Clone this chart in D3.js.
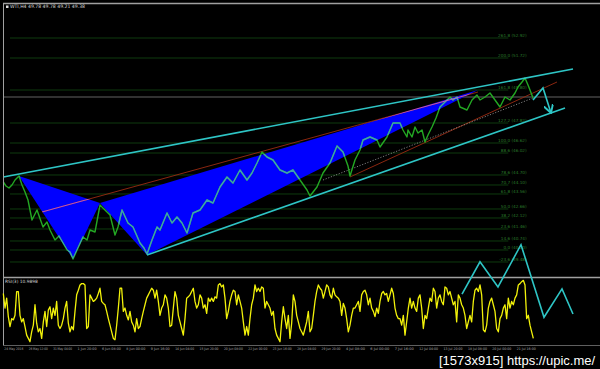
<!DOCTYPE html>
<html>
<head>
<meta charset="utf-8">
<script src="https://cdn.jsdelivr.net/npm/d3@7"></script>
<style>
  html, body { margin: 0; background: #000; }
  svg { display: block; }
</style>
</head>
<body>
<svg id="chart" width="600" height="369"></svg>
<script>
// WTI H4 with harmonic pattern, channel and RSI(3)

// price swings: [bar, price]
const price = [
  [0,44.28],[1.6,44.04],[3.4,43.92],[5.2,44.10],[7,44.40],[9.4,44.64],[11.2,44.10],[13,43.68],
  [14.8,43.20],[17.2,42.00],[20.2,42.60],[23.8,41.58],[26.2,41.88],[28,41.40],[31,40.80],
  [33.4,41.04],[35.8,40.62],[38.2,40.20],[40,40.08],[41.8,39.66],[44.8,40.32],[47.8,40.98],
  [50.2,40.80],[52,41.40],[55,41.28],[58,42.90],[61,42.60],[64,42.30],[67,41.10],[68.8,41.58],
  [71.2,42.60],[74.8,41.82],[77.8,41.58],[82,40.62],[84.4,40.32],[86.2,39.96],[89.2,40.80],
  [92.2,41.58],[94,41.40],[98.2,42.42],[101.2,41.82],[104.2,42.18],[107.2,41.82],[110.2,41.22],
  [113.8,42.42],[118,42.60],[122.2,43.20],[125.8,43.02],[130,43.98],[134.2,44.58],[137.8,44.22],
  [142,45.00],[146.2,44.40],[149.2,44.82],[152.2,45.42],[155.2,46.08],[158.2,45.78],[161.8,45.60],
  [166,45.00],[170.2,44.82],[173.8,45.00],[178,44.40],[182.2,43.80],[184,43.44],[188.2,43.98],
  [191.8,44.82],[196,45.42],[200.2,46.44],[203.8,46.08],[206.8,45.24],[208,44.64],[211,45.60],
  [214,46.20],[215.8,46.80],[220,46.98],[224.2,46.80],[226,46.38],[230.2,46.98],[233.8,47.82],
  [238,47.82],[239.8,47.40],[242.2,46.98],[242.8,47.40],[245.2,46.98],[247,47.58],[248.8,47.22],
  [251.2,47.40],[253,46.68],[254.8,47.10],[257.2,47.58],[259.6,48.12],[262,48.78],[266.2,49.20],
  [268,49.38],[269.8,49.20],[272.2,49.38],[274,48.78],[278.2,48.60],[281.2,49.20],[284.2,49.50],
  [286,49.20],[289,49.38],[292,49.62],[295,49.20],[298,48.78],[301,49.38],[304,49.20],[307,49.62],
  [308.8,49.98],[311.2,50.28],[313,50.52],[314.8,50.10],[316,49.80],[317.8,49.32]
];

// RSI(3), one value per sample bar
const rsi = [
  78,56,71,43,28,40,38,45,81,81, 45,35,40,28,15,10,5,20,30,61, 33,20,25,10,35,51,28,53,58,40,
  56,45,66,30,25,30,40,56,66,33, 20,28,23,51,76,83,91,93,93,91, 25,28,76,71,66,68,71,78,86,66,
  63,61,51,40,30,20,10,8,30,56, 86,86,51,56,45,38,51,35,30,20, 40,25,28,40,51,61,71,76,81,86,
  83,71,83,66,45,56,61,76,71,56, 28,30,56,81,71,45,35,25,15,40, 71,73,76,81,86,66,56,61,
  76,71,56,61,48,71,66,71,66,73, 71,91,93,88,91,71,40,51,66,76, 83,81,61,76,66,56,35,15,28,15,
  40,61,71,91,81,86,81,88,86,56, 66,61,56,45,51,25,15,10,5,35, 58,40,25,45,10,33,76,66,45,35,
  25,20,15,25,35,51,20,25,45,66, 81,91,86,83,71,81,91,88,76,71, 86,76,73,71,66,45,63,56,40,20,
  30,45,56,56,61,66,51,76,81,83, 76,61,71,56,51,43,56,48,66,78, 81,76,78,66,76,86,78,56,45,40,
  40,30,45,15,35,56,71,56,66,56, 51,71,76,56,25,45,40,56,71,66, 86,81,56,71,76,66,61,88,86,76,
  81,71,61,66,35,76,71,61,56,45, 25,35,45,35,66,83,86,81,91,76, 23,20,30,56,66,71,61,51,25,20,
  40,45,56,61,40,71,56,66,61,71, 76,91,93,96,98,91,40,45,30,20, 10
];

const fibPrices = [52.92, 51.72, 49.80, 47.82, 46.62, 46.02, 44.70, 44.10, 43.56, 42.66, 42.12, 41.46, 40.74, 40.20, 39.48];
const fibRatios = ['261.8', '200.0', '161.8', '127.2', '100.0', '88.6', '78.6', '70.7', '61.8', '50.0', '38.2', '23.6', '14.6', '0.0', '-23.6'];

// harmonic pattern X-A-B and B-C-D
const patternXAB = [[9.4,44.64],[41.8,39.66],[58,43.02]];
const patternBCD = [[58,43.02],[86.2,39.90],[284.8,49.80]];

const channelTop    = [[0,44.58],[341.8,51.06]];
const channelBottom = [[86.2,39.90],[337,48.72]];
const redLines = [
  [[23.2,42.48],[284.8,49.68]],
  [[208,44.58],[332.2,50.28]]
];
const dottedLine = [[191.8,44.40],[317.8,49.32]];
const projection = [[317.8,49.20],[323.8,49.92],[328.6,48.42]];
const rsiProjection = [[275.2,77],[286,126],[296.8,88],[310.6,152],[324.4,42],[335.2,85],[341.8,47]];

const bidPrice = 49.38;
const timeLabels = [
  '24 May 2016','26 May 12:00','31 May 04:00','1 Jun 20:00','6 Jun 08:00','8 Jun 00:00',
  '9 Jun 16:00','14 Jun 04:00','15 Jun 20:00','20 Jun 08:00','22 Jun 00:00','23 Jun 16:00',
  '28 Jun 04:00','29 Jun 20:00','4 Jul 08:00','6 Jul 00:00','7 Jul 16:00','12 Jul 04:00',
  '13 Jul 20:00','18 Jul 08:00','20 Jul 00:00','21 Jul 16:00'
];
const timeStep = 14.64;   // bars between time labels

// ── scales ──────────────────────────────────────────────────────────────────
const svg = d3.select('#chart');
const x  = d3.scaleLinear().domain([0, 318]).range([3.33, 533.33]);
const y  = d3.scaleLinear().domain([40, 50]).range([253.33, 86.67]);
const yR = d3.scaleLinear().domain([0, 100]).range([345, 279]);

const pLine = d3.line().x(d => x(d[0])).y(d => y(d[1]));
const rLine = d3.line().x(d => x(d[0])).y(d => yR(d[1]));

const font = 'DejaVu Sans, Liberation Sans, sans-serif';

svg.append('rect').attr('width', 600).attr('height', 369).attr('fill', '#000');

const defs = svg.append('defs');
const clip = defs.append('clipPath').attr('id', 'pat');
[patternXAB, patternBCD].forEach(p => clip.append('path').attr('d', pLine(p) + 'Z'));
defs.append('marker')
  .attr('id', 'arrow').attr('viewBox', '0 0 8 8').attr('refX', 7).attr('refY', 4)
  .attr('markerWidth', 6).attr('markerHeight', 6).attr('orient', 'auto')
  .append('path').attr('d', 'M0,0 L7,4 L0,8').attr('fill', 'none')
  .attr('stroke', '#2ec5c5').attr('stroke-width', 1.6);

// ── fibo levels ─────────────────────────────────────────────────────────────
const fib = svg.append('g');
fib.selectAll('line').data(fibPrices).enter().append('line')
  .attr('x1', x(4)).attr('x2', x(303))
  .attr('y1', d => y(d)).attr('y2', d => y(d))
  .attr('stroke', '#124a12').attr('stroke-width', 0.8);
fib.selectAll('text').data(fibPrices).enter().append('text')
  .attr('x', x(314)).attr('y', d => y(d) - 0.8)
  .attr('text-anchor', 'end')
  .attr('font-family', font).attr('font-size', 4.2)
  .attr('fill', '#2a7a2a')
  .text((d, i) => `${fibRatios[i]} (${d.toFixed(2)})`);

// bid line
svg.append('line')
  .attr('x1', 3).attr('x2', 600).attr('y1', y(bidPrice)).attr('y2', y(bidPrice))
  .attr('stroke', '#6e6e6e').attr('stroke-width', 0.9);

// ── pattern fill ────────────────────────────────────────────────────────────
svg.selectAll('path.pattern')
  .data([patternXAB, patternBCD])
  .enter().append('path')
  .attr('class', 'pattern')
  .attr('d', d => pLine(d) + 'Z')
  .attr('fill', '#0000ff');

// trend lines
svg.selectAll('path.red')
  .data(redLines)
  .enter().append('path')
  .attr('class', 'red')
  .attr('d', pLine)
  .attr('fill', 'none')
  .attr('stroke', '#9a2a12').attr('stroke-width', 0.9);

svg.append('path')
  .attr('d', pLine(dottedLine))
  .attr('fill', 'none')
  .attr('stroke', '#9a9a9a').attr('stroke-width', 0.8)
  .attr('stroke-dasharray', '1.2,1.6');

// price
svg.append('path')
  .attr('d', pLine(price))
  .attr('fill', 'none')
  .attr('stroke', '#23a823').attr('stroke-width', 1.4)
  .attr('stroke-linejoin', 'round');

// inside pattern: price and trend line blend with the blue
const inner = svg.append('g').attr('clip-path', 'url(#pat)');
inner.append('path')
  .attr('d', pLine(price))
  .attr('fill', 'none')
  .attr('stroke', '#3d9fb4').attr('stroke-width', 1.4)
  .attr('stroke-linejoin', 'round');
inner.selectAll('path.red')
  .data(redLines)
  .enter().append('path')
  .attr('d', pLine)
  .attr('fill', 'none')
  .attr('stroke', '#c05ad0').attr('stroke-width', 0.9);

// channel
svg.selectAll('path.channel')
  .data([channelTop, channelBottom])
  .enter().append('path')
  .attr('class', 'channel')
  .attr('d', pLine)
  .attr('fill', 'none')
  .attr('stroke', '#2ec5c5').attr('stroke-width', 1.6);

// projected move
svg.append('path')
  .attr('d', pLine(projection))
  .attr('fill', 'none')
  .attr('stroke', '#2ec5c5').attr('stroke-width', 1.6)
  .attr('marker-end', 'url(#arrow)');

// ── frame ───────────────────────────────────────────────────────────────────
const frame = svg.append('g').attr('stroke', '#a0a0a0').attr('fill', 'none');
frame.append('line').attr('x1', 3).attr('x2', 600).attr('y1', 3.5).attr('y2', 3.5).attr('stroke-width', 1.4);
frame.append('line').attr('x1', 3.5).attr('x2', 3.5).attr('y1', 3).attr('y2', 345).attr('stroke-width', 1);
frame.append('line').attr('x1', 3).attr('x2', 600).attr('y1', 277.5).attr('y2', 277.5).attr('stroke-width', 1.4);
frame.append('line').attr('x1', 3).attr('x2', 600).attr('y1', 345.5).attr('y2', 345.5)
  .attr('stroke', '#777').attr('stroke-width', 0.8);

// ── RSI ─────────────────────────────────────────────────────────────────────
svg.append('path')
  .attr('d', rLine(rsi.map((v, i) => [i, v])))
  .attr('fill', 'none')
  .attr('stroke', '#f2f20a').attr('stroke-width', 1.3)
  .attr('stroke-linejoin', 'round');

svg.append('path')
  .attr('d', rLine(rsiProjection))
  .attr('fill', 'none')
  .attr('stroke', '#2ec5c5').attr('stroke-width', 1.6);

// ── texts ───────────────────────────────────────────────────────────────────
svg.append('rect').attr('x', 6).attr('y', 5.5).attr('width', 2.5).attr('height', 2.5).attr('fill', '#ddd');
svg.append('text')
  .attr('x', 10).attr('y', 8.2)
  .attr('font-family', font).attr('font-size', 4.6).attr('fill', '#dcdcdc')
  .text('WTI,H4  49.78 49.78 49.21 49.38');

svg.append('text')
  .attr('x', 5).attr('y', 283)
  .attr('font-family', font).attr('font-size', 4.4).attr('fill', '#d0d0d0')
  .text('RSI(3) 10.9898');

svg.append('g').selectAll('text').data(timeLabels).enter().append('text')
  .attr('x', (d, i) => x(i * timeStep) + 1).attr('y', 350)
  .attr('font-family', font).attr('font-size', 3.4).attr('fill', '#a8a8a8')
  .attr('textLength', 19).attr('lengthAdjust', 'spacingAndGlyphs')
  .text(d => d);

// watermark
svg.append('text')
  .attr('x', 439).attr('y', 365)
  .attr('font-family', 'Liberation Sans, Arial, sans-serif').attr('font-size', 13)
  .attr('fill', '#fff').attr('stroke', '#000').attr('stroke-width', 2.2)
  .attr('paint-order', 'stroke')
  .text('[1573x915] https://upic.me/');
</script>
</body>
</html>
